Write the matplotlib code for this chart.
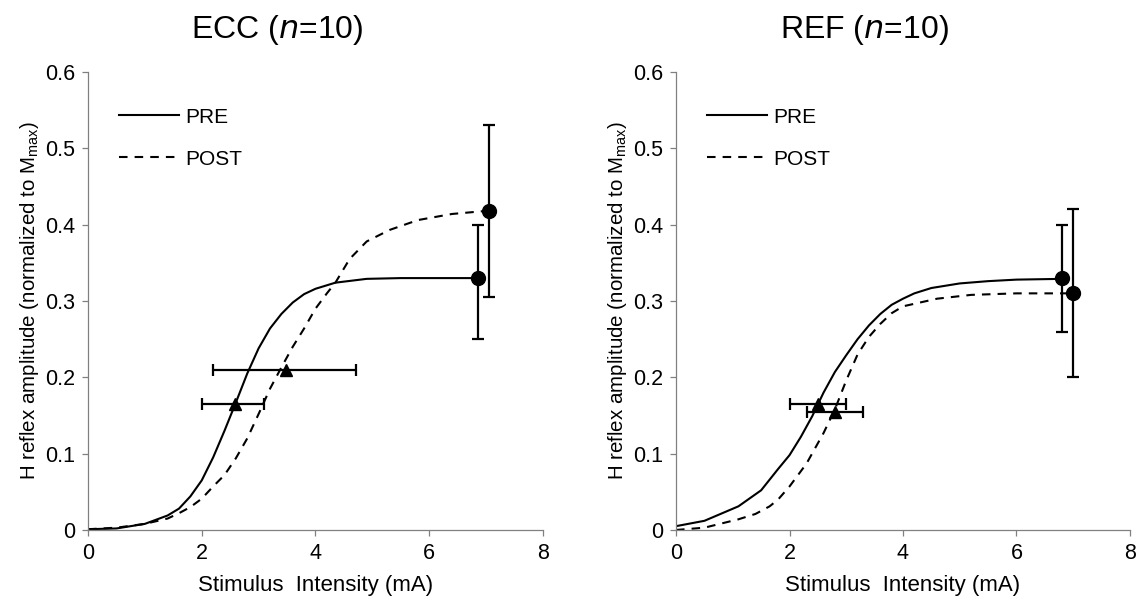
import numpy as np
import matplotlib.pyplot as plt

plt.rcParams['font.family'] = ['Liberation Sans', 'DejaVu Sans']

# ECC panel, curves
ecc_pre_x = [0, 0.5, 1.0, 1.4, 1.6, 1.8, 2.0, 2.2, 2.4, 2.6, 2.8, 3.0, 3.2, 3.4, 3.6, 3.8, 4.0, 4.35, 4.9, 5.5, 6.2, 6.8]
ecc_pre_y = [0.001, 0.002, 0.008, 0.019, 0.028, 0.044, 0.065, 0.095, 0.13, 0.167, 0.205, 0.238, 0.264, 0.283, 0.298, 0.309, 0.316, 0.324, 0.329, 0.33, 0.33, 0.33]
ecc_post_x = [0, 0.5, 1.0, 1.4, 1.6, 1.8, 2.0, 2.2, 2.4, 2.6, 2.8, 3.0, 3.2, 3.4, 3.6, 3.8, 4.0, 4.2, 4.35, 4.6, 4.9, 5.3, 5.8, 6.4, 7.0]
ecc_post_y = [0.001, 0.003, 0.008, 0.015, 0.022, 0.03, 0.041, 0.057, 0.072, 0.094, 0.12, 0.152, 0.185, 0.213, 0.24, 0.264, 0.29, 0.31, 0.324, 0.355, 0.378, 0.393, 0.406, 0.414, 0.418]

# REF panel
ref_pre_x = [0, 0.5, 1.1, 1.5, 1.8, 2.0, 2.2, 2.4, 2.6, 2.8, 3.0, 3.2, 3.4, 3.6, 3.8, 4.0, 4.2, 4.5, 5.0, 5.5, 6.0, 6.8]
ref_pre_y = [0.005, 0.012, 0.031, 0.052, 0.08, 0.098, 0.122, 0.149, 0.18, 0.207, 0.229, 0.25, 0.268, 0.283, 0.295, 0.303, 0.31, 0.317, 0.323, 0.326, 0.328, 0.329]
ref_post_x = [0, 0.5, 1.1, 1.4, 1.65, 1.8, 2.0, 2.3, 2.6, 2.8, 3.0, 3.2, 3.4, 3.6, 3.8, 4.0, 4.6, 5.2, 6.0, 7.0]
ref_post_y = [0.0, 0.003, 0.014, 0.021, 0.031, 0.04, 0.057, 0.087, 0.127, 0.158, 0.196, 0.23, 0.253, 0.27, 0.284, 0.293, 0.303, 0.308, 0.31, 0.31]

# threshold points (triangles) with horizontal error: x, y, lower, upper
ecc_tri = [(2.58, 0.165, 0.57, 0.52), (3.49, 0.21, 1.29, 1.23)]
ref_tri = [(2.5, 0.165, 0.5, 0.5), (2.8, 0.155, 0.5, 0.5)]
# plateau points (circles) with vertical error: x, y, lower, upper
ecc_max = [(6.85, 0.33, 0.08, 0.07), (7.05, 0.418, 0.113, 0.112)]
ref_max = [(6.8, 0.33, 0.07, 0.07), (7.0, 0.31, 0.11, 0.11)]

titles = ['ECC', 'REF']

fig = plt.figure(figsize=(11.4, 6), dpi=100)
axes = [fig.add_axes([0.0772, 0.1167, 0.3991, 0.7633]),
        fig.add_axes([0.5930, 0.1167, 0.3982, 0.7633])]

panels = [(ecc_pre_x, ecc_pre_y, ecc_post_x, ecc_post_y, ecc_tri, ecc_max),
          (ref_pre_x, ref_pre_y, ref_post_x, ref_post_y, ref_tri, ref_max)]

for ax, name, (px, py, qx, qy, tri, mx) in zip(axes, titles, panels):
    ax.plot(px, py, color='black', lw=1.5, label='PRE')
    ax.plot(qx, qy, color='black', lw=1.5, ls=(0, (4.1, 3.4)), label='POST')
    for x, y, lo, hi in tri:
        ax.errorbar([x], [y], xerr=[[lo], [hi]], fmt='^', color='black', ms=9,
                    elinewidth=1.6, capsize=4, capthick=1.6)
    for x, y, lo, hi in mx:
        ax.errorbar([x], [y], yerr=[[lo], [hi]], fmt='o', color='black', ms=10,
                    elinewidth=1.6, capsize=4, capthick=1.6)

    ax.set_xlim(0, 8)
    ax.set_ylim(0, 0.6)
    ax.set_xticks([0, 2, 4, 6, 8])
    ax.set_yticks([0, 0.1, 0.2, 0.3, 0.4, 0.5, 0.6])
    ax.set_yticklabels(['0', '0.1', '0.2', '0.3', '0.4', '0.5', '0.6'])
    for s in ['top', 'right']:
        ax.spines[s].set_visible(False)
    for s in ['left', 'bottom']:
        ax.spines[s].set_color('#808080')
        ax.spines[s].set_linewidth(0.9)
    ax.tick_params(direction='out', length=4.5, width=0.9, color='#808080',
                   labelsize=15.5, pad=5)
    ax.set_xlabel('Stimulus  Intensity (mA)', fontsize=16, labelpad=8)
    ax.set_ylabel(r'H reflex amplitude (normalized to M$_{\mathregular{max}}$)', fontsize=14.8, labelpad=3)
    ax.text(0.415, 1.055, name + r' ($\mathit{n}$=10)', transform=ax.transAxes,
            ha='center', va='bottom', fontsize=23)
    ax.legend(loc='upper left', bbox_to_anchor=(0.068, 0.922), frameon=False,
              borderpad=0, borderaxespad=0,
              fontsize=15, handlelength=2.87, handletextpad=0.3, labelspacing=1.1)

plt.savefig('out.png', dpi=100)
